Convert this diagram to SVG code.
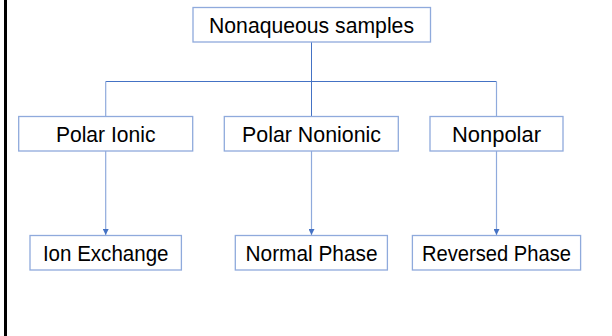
<svg xmlns="http://www.w3.org/2000/svg" width="612" height="336" viewBox="0 0 612 336">
<defs>
<style>
.box{fill:#ffffff;stroke:#8faadc;stroke-width:1.3}
.lbl{font-family:"Liberation Sans",Arial,sans-serif;font-size:22px;fill:#000000;text-anchor:middle}
.con{stroke:#4472c4;stroke-width:1;fill:none}
.conl{stroke:#8faadc;stroke-width:1.2;fill:none}
</style>
<marker id="ah" viewBox="0 0 10 10" refX="10" refY="5" markerWidth="6" markerHeight="6" markerUnits="userSpaceOnUse" orient="auto">
<path d="M0,0 L10,5 L0,10 z" fill="#4472c4"/>
</marker>
</defs>
<rect x="0" y="0" width="612" height="336" fill="#ffffff"/>
<rect x="4" y="0" width="3" height="336" fill="#000000"/>
<g id="connectors">
<line class="con" x1="311.5" y1="42" x2="311.5" y2="116"/>
<line class="con" x1="105.7" y1="81.5" x2="496.5" y2="81.5"/>
<line class="conl" x1="105.7" y1="81.5" x2="105.7" y2="116"/>
<line class="conl" x1="496.5" y1="81.5" x2="496.5" y2="116"/>
<line class="conl" x1="105.7" y1="151" x2="105.7" y2="235" marker-end="url(#ah)"/>
<line class="conl" x1="311.5" y1="151" x2="311.5" y2="235" marker-end="url(#ah)"/>
<line class="conl" x1="496.5" y1="151" x2="496.5" y2="235" marker-end="url(#ah)"/>
</g>
<g id="nonaqueous">
<rect class="box" x="193" y="7.5" width="237.5" height="34.5"/>
<text class="lbl" x="311.5" y="33" textLength="205" lengthAdjust="spacingAndGlyphs">Nonaqueous samples</text>
</g>
<g id="polar-ionic">
<rect class="box" x="18.7" y="116.5" width="174" height="34.5"/>
<text class="lbl" x="105.7" y="142" textLength="99.5" lengthAdjust="spacingAndGlyphs">Polar Ionic</text>
</g>
<g id="polar-nonionic">
<rect class="box" x="224.3" y="116.5" width="174" height="34.5"/>
<text class="lbl" x="311.5" y="142" textLength="139" lengthAdjust="spacingAndGlyphs">Polar Nonionic</text>
</g>
<g id="nonpolar">
<rect class="box" x="430" y="116.5" width="133" height="34.5"/>
<text class="lbl" x="496.5" y="142" textLength="89" lengthAdjust="spacingAndGlyphs">Nonpolar</text>
</g>
<g id="ion-exchange">
<rect class="box" x="30" y="235.5" width="151.4" height="34.5"/>
<text class="lbl" x="105.7" y="261" textLength="125.6" lengthAdjust="spacingAndGlyphs">Ion Exchange</text>
</g>
<g id="normal-phase">
<rect class="box" x="235.3" y="235.5" width="152.1" height="34.5"/>
<text class="lbl" x="311.5" y="261" textLength="132" lengthAdjust="spacingAndGlyphs">Normal Phase</text>
</g>
<g id="reversed-phase">
<rect class="box" x="412.4" y="235.5" width="168.2" height="34.5"/>
<text class="lbl" x="496.5" y="261" textLength="149" lengthAdjust="spacingAndGlyphs">Reversed Phase</text>
</g>
</svg>
